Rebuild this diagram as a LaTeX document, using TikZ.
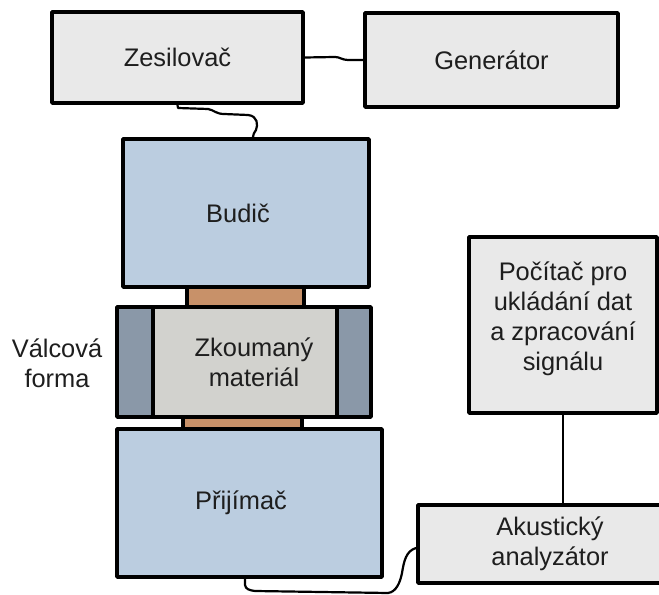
\documentclass[tikz,border=0pt]{standalone}
\usepackage{fontspec}
\setmainfont{Liberation Sans}
\definecolor{boxgrey}{RGB}{233,233,233}
\definecolor{boxblue}{RGB}{187,205,224}
\definecolor{matgrey}{RGB}{210,210,206}
\definecolor{formblue}{RGB}{138,152,168}
\definecolor{padbrown}{RGB}{200,145,105}
\definecolor{txt}{RGB}{30,30,30}
\begin{document}
\begin{tikzpicture}[line join=bevel,
  font=\fontsize{25.5}{30}\selectfont,text=txt,
  box/.style={draw=black,line width=4bp,inner sep=0pt,align=center},
  wire/.style={draw=black,line width=2.2bp,line cap=round},
  ]
\useasboundingbox (0bp,0bp) rectangle (659bp,595bp);
%%
\node (node_zesilovac) at (177.5bp,537.5bp) [box,fill=boxgrey,minimum width=251bp,minimum height=91bp] {Zesilovač};
  \node (node_generator) at (491.5bp,535.0bp) [box,fill=boxgrey,minimum width=253bp,minimum height=94bp] {Generátor};
  \node (node_budic) at (246.0bp,382.0bp) [box,fill=boxblue,minimum width=246bp,minimum height=148bp,label={[xshift=-8bp]center:Budič}] {};
  \node (node_pad_top) at (245.5bp,298.0bp) [box,fill=padbrown,minimum width=117bp,minimum height=20bp] {};
  \node (node_forma_l) at (135.0bp,233.0bp) [box,fill=formblue,minimum width=36bp,minimum height=110bp] {};
  \node (node_forma_r) at (354.0bp,233.0bp) [box,fill=formblue,minimum width=34bp,minimum height=110bp] {};
  \node (node_material) at (245.0bp,233.0bp) [box,fill=matgrey,minimum width=184bp,minimum height=110bp,label={[xshift=9bp,align=center]center:Zkoumaný\\materiál}] {};
  \node (node_pad_bot) at (242.5bp,172.0bp) [box,fill=padbrown,minimum width=119bp,minimum height=12bp] {};
  \node (node_prijimac) at (249.5bp,92.0bp) [box,fill=boxblue,minimum width=265bp,minimum height=148bp,label={[xshift=-8.5bp]center:Přijímač}] {};
  \node (node_pocitac) at (563.0bp,270.0bp) [box,fill=boxgrey,minimum width=188bp,minimum height=176bp,label={[yshift=6bp,align=center]center:Počítač pro\\ukládání dat\\a zpracování\\signálu}] {};
  \node (node_analyzator) at (550.0bp,51.0bp) [box,fill=boxgrey,minimum width=264bp,minimum height=78bp] {Akustický\\analyzátor};
  \node (node_forma) at (57.0bp,231.5bp) [align=center] {Válcová\\forma};
  \draw [wire] (node_zesilovac.east) -- (335bp,538bp) .. controls (340bp,538bp) and (342bp,535bp) .. (348bp,535bp) -- (node_generator.west);
  \draw [wire] (node_zesilovac.south) -- (178bp,487bp) -- (208bp,486bp) .. controls (214bp,485bp) and (216bp,481bp) .. (224bp,481bp) -- (248bp,480bp) .. controls (258bp,479bp) and (258bp,470bp) .. (256bp,465bp) .. controls (254bp,462bp) and (253bp,460bp) .. ([xshift=7bp]node_budic.north);
  \draw [wire] (node_pocitac.south) -- (node_pocitac.south |- node_analyzator.north);
  \draw [wire] ([xshift=-4.5bp]node_prijimac.south) -- (245bp,10bp) .. controls (246bp,6bp) and (248bp,5bp) .. (255bp,4bp) -- (388bp,2bp) .. controls (396bp,3bp) and (400bp,12bp) .. (402bp,22bp) .. controls (404bp,34bp) and (406bp,44bp) .. ([yshift=-4bp]node_analyzator.west);
%
\end{tikzpicture}
\end{document}
